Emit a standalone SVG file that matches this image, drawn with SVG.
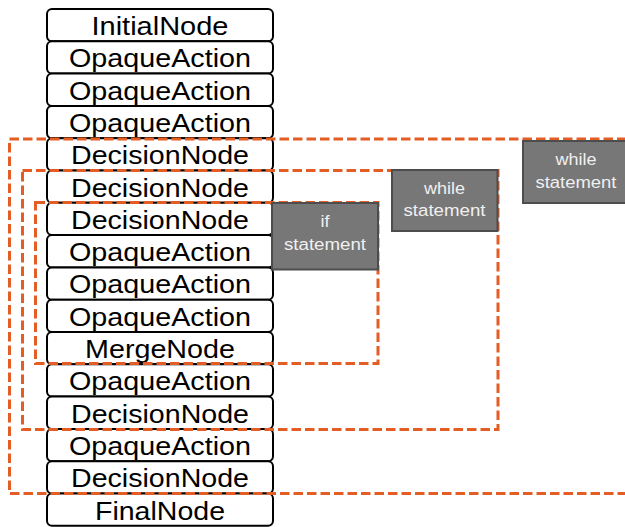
<svg xmlns="http://www.w3.org/2000/svg" width="625" height="527" viewBox="0 0 625 527">
  <style>
    .node rect { fill: #ffffff; stroke: #000000; stroke-width: 2; }
    .node text { font-family: "Liberation Sans", Arial, sans-serif; font-size: 25.5px; fill: #000000; text-anchor: middle; }
    .scope { fill: none; stroke: #e35d25; stroke-width: 3; stroke-dasharray: 9.5 4; }
    .tag rect { fill: #777777; stroke: #4d4d4d; stroke-width: 2; }
    .tag text { font-family: "Liberation Sans", Arial, sans-serif; font-size: 16px; fill: #f0f0f0; text-anchor: middle; }
  </style>

  <!-- stack of activity nodes -->
  <g id="n0" class="node"><rect x="47" y="9" width="226" height="32.3" rx="5"/><text x="160" y="35" textLength="137" lengthAdjust="spacingAndGlyphs">InitialNode</text></g>
  <g id="n1" class="node"><rect x="47" y="41.3" width="226" height="32.3" rx="5"/><text x="160" y="67.3" textLength="182" lengthAdjust="spacingAndGlyphs">OpaqueAction</text></g>
  <g id="n2" class="node"><rect x="47" y="73.6" width="226" height="32.3" rx="5"/><text x="160" y="99.6" textLength="182" lengthAdjust="spacingAndGlyphs">OpaqueAction</text></g>
  <g id="n3" class="node"><rect x="47" y="105.9" width="226" height="32.3" rx="5"/><text x="160" y="131.9" textLength="182" lengthAdjust="spacingAndGlyphs">OpaqueAction</text></g>
  <g id="n4" class="node"><rect x="47" y="138.2" width="226" height="32.3" rx="5"/><text x="160" y="164.2" textLength="178" lengthAdjust="spacingAndGlyphs">DecisionNode</text></g>
  <g id="n5" class="node"><rect x="47" y="170.5" width="226" height="32.3" rx="5"/><text x="160" y="196.5" textLength="178" lengthAdjust="spacingAndGlyphs">DecisionNode</text></g>
  <g id="n6" class="node"><rect x="47" y="202.8" width="226" height="32.3" rx="5"/><text x="160" y="228.8" textLength="178" lengthAdjust="spacingAndGlyphs">DecisionNode</text></g>
  <g id="n7" class="node"><rect x="47" y="235.1" width="226" height="32.3" rx="5"/><text x="160" y="261.1" textLength="182" lengthAdjust="spacingAndGlyphs">OpaqueAction</text></g>
  <g id="n8" class="node"><rect x="47" y="267.4" width="226" height="32.3" rx="5"/><text x="160" y="293.4" textLength="182" lengthAdjust="spacingAndGlyphs">OpaqueAction</text></g>
  <g id="n9" class="node"><rect x="47" y="299.7" width="226" height="32.3" rx="5"/><text x="160" y="325.7" textLength="182" lengthAdjust="spacingAndGlyphs">OpaqueAction</text></g>
  <g id="n10" class="node"><rect x="47" y="332" width="226" height="32.3" rx="5"/><text x="160" y="358" textLength="150" lengthAdjust="spacingAndGlyphs">MergeNode</text></g>
  <g id="n11" class="node"><rect x="47" y="364.3" width="226" height="32.3" rx="5"/><text x="160" y="390.3" textLength="182" lengthAdjust="spacingAndGlyphs">OpaqueAction</text></g>
  <g id="n12" class="node"><rect x="47" y="396.6" width="226" height="32.3" rx="5"/><text x="160" y="422.6" textLength="178" lengthAdjust="spacingAndGlyphs">DecisionNode</text></g>
  <g id="n13" class="node"><rect x="47" y="428.9" width="226" height="32.3" rx="5"/><text x="160" y="454.9" textLength="182" lengthAdjust="spacingAndGlyphs">OpaqueAction</text></g>
  <g id="n14" class="node"><rect x="47" y="461.2" width="226" height="32.3" rx="5"/><text x="160" y="487.2" textLength="178" lengthAdjust="spacingAndGlyphs">DecisionNode</text></g>
  <g id="n15" class="node"><rect x="47" y="493.5" width="226" height="32.3" rx="5"/><text x="160" y="519.5" textLength="130" lengthAdjust="spacingAndGlyphs">FinalNode</text></g>

  <!-- dashed scopes of the control structures -->
  <g id="scopes">
    <path class="scope" d="M640 139 H9.5 V493.5 H640"/>
    <rect class="scope" x="22.5" y="170.5" width="475.5" height="259"/>
    <rect class="scope" x="35.5" y="202.5" width="342.5" height="161"/>
  </g>

  <!-- statement labels -->
  <g id="tag-while-outer" class="tag">
    <rect x="523" y="141" width="110" height="62"/>
    <text x="576" y="165" textLength="41" lengthAdjust="spacingAndGlyphs">while</text>
    <text x="576" y="187.5" textLength="81" lengthAdjust="spacingAndGlyphs">statement</text>
  </g>
  <g id="tag-while-inner" class="tag">
    <rect x="392" y="170" width="105.5" height="61"/>
    <text x="444.5" y="193.5" textLength="41" lengthAdjust="spacingAndGlyphs">while</text>
    <text x="444.5" y="216" textLength="82" lengthAdjust="spacingAndGlyphs">statement</text>
  </g>
  <g id="tag-if" class="tag">
    <rect x="272" y="203" width="106" height="66.5"/>
    <text x="325" y="226.5" textLength="9" lengthAdjust="spacingAndGlyphs">if</text>
    <text x="325" y="249.5" textLength="82" lengthAdjust="spacingAndGlyphs">statement</text>
  </g>
</svg>
